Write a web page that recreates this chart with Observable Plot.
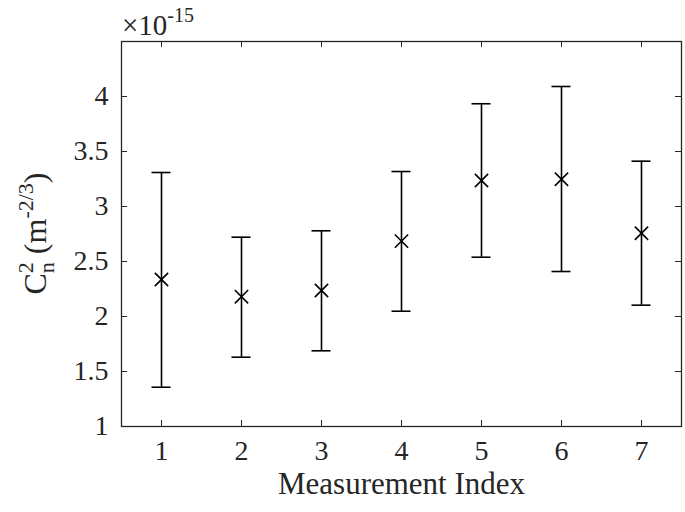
<!DOCTYPE html>
<html>
<head>
<meta charset="utf-8">
<script src="https://cdn.jsdelivr.net/npm/d3@7"></script>
<script src="https://cdn.jsdelivr.net/npm/@observablehq/plot@0.6"></script>
<style>
  html, body { margin: 0; padding: 0; background: #fff; }
  #chart svg { display: block; }
</style>
</head>
<body>
<div id="chart"></div>
<script>
// Data (values in units of 1e-15 m^-2/3)
const measurementIndex = [1, 2, 3, 4, 5, 6, 7];
const cn2Mean  = [2.336, 2.180, 2.236, 2.685, 3.236, 3.248, 2.757];
const cn2Lower = [1.357, 1.630, 1.688, 2.048, 2.539, 2.409, 2.103];
const cn2Upper = [3.309, 2.721, 2.779, 3.318, 3.934, 4.091, 3.412];
const xTicks = [1, 2, 3, 4, 5, 6, 7];
const yTicks = [1, 1.5, 2, 2.5, 3, 3.5, 4];
const yTickLabels = ["1", "1.5", "2", "2.5", "3", "3.5", "4"];
const exponentLabel = "-15";

const data = measurementIndex.map((x, i) => ({x, mean: cn2Mean[i], lo: cn2Lower[i], hi: cn2Upper[i]}));

const W = 685, H = 512;
const mL = 121, mR = 4, mT = 41, mB = 86;
const plotW = W - mL - mR, plotH = H - mT - mB;
const tickLen = 6;
const axisColor = "#262626";
const font = "'Liberation Serif', 'Times New Roman', serif";

const chart = Plot.plot({
  width: W,
  height: H,
  marginLeft: mL,
  marginRight: mR,
  marginTop: mT,
  marginBottom: mB,
  style: {fontFamily: font, fontSize: "28px", color: axisColor, background: "#fff"},
  x: {domain: [0.5, 7.5]},
  y: {domain: [1, 4.5]},
  marks: [
    // inward ticks on all four sides
    Plot.ruleX(xTicks, {x: d => d, stroke: axisColor, insetTop: plotH - tickLen}),
    Plot.ruleX(xTicks, {x: d => d, stroke: axisColor, insetBottom: plotH - tickLen}),
    Plot.ruleY(yTicks, {y: d => d, stroke: axisColor, insetRight: plotW - tickLen}),
    Plot.ruleY(yTicks, {y: d => d, stroke: axisColor, insetLeft: plotW - tickLen}),
    Plot.axisX({ticks: xTicks, tickSize: 0, tickPadding: 14, tickFormat: d => String(d), label: null, fontSize: 28}),
    Plot.axisY({ticks: yTicks, tickSize: 0, tickPadding: 13, tickFormat: d => yTickLabels[yTicks.indexOf(d)], label: null, fontSize: 28}),
    Plot.frame({stroke: axisColor, strokeWidth: 1.3}),
    // error bars
    Plot.ruleX(data, {x: "x", y1: "lo", y2: "hi", stroke: "#000", strokeWidth: 1.6}),
    Plot.ruleY(data, {y: "hi", x1: "x", x2: "x", insetLeft: -9.5, insetRight: -9.5, stroke: "#000", strokeWidth: 1.6}),
    Plot.ruleY(data, {y: "lo", x1: "x", x2: "x", insetLeft: -9.5, insetRight: -9.5, stroke: "#000", strokeWidth: 1.6}),
    Plot.dot(data, {x: "x", y: "mean", symbol: "times", r: 6.1, stroke: "#000", strokeWidth: 1.6}),
    // x label
    Plot.text(["Measurement Index"], {frameAnchor: "bottom", dy: 67, fontSize: 31, fill: axisColor})
  ]
});

document.getElementById("chart").appendChild(chart);

const svg = d3.select(chart);
// exponent label  ×10^-15
const ex = svg.append("text")
  .attr("x", mL + 1)
  .attr("y", 35)
  .attr("text-anchor", "start")
  .attr("fill", axisColor)
  .style("font-family", font)
  .style("font-size", "29px");
ex.append("tspan").text("×10");
ex.append("tspan").attr("dy", -13).style("font-size", "20px").text(exponentLabel);

// y label: C_n^2 (m^-2/3)
const yl = svg.append("text")
  .attr("transform", `translate(46, ${mT + plotH / 2}) rotate(-90)`)
  .attr("text-anchor", "middle")
  .attr("fill", axisColor)
  .style("font-family", font)
  .style("font-size", "32px");
yl.append("tspan").text("C");
yl.append("tspan").attr("dy", -13).style("font-size", "22px").text("2");
yl.append("tspan").attr("dx", -11).attr("dy", 21).style("font-size", "22px").text("n");
yl.append("tspan").attr("dy", -8).text(" (m");
yl.append("tspan").attr("dy", -13).style("font-size", "22px").text("-2/3");
yl.append("tspan").attr("dy", 13).text(")");
</script>
</body>
</html>
